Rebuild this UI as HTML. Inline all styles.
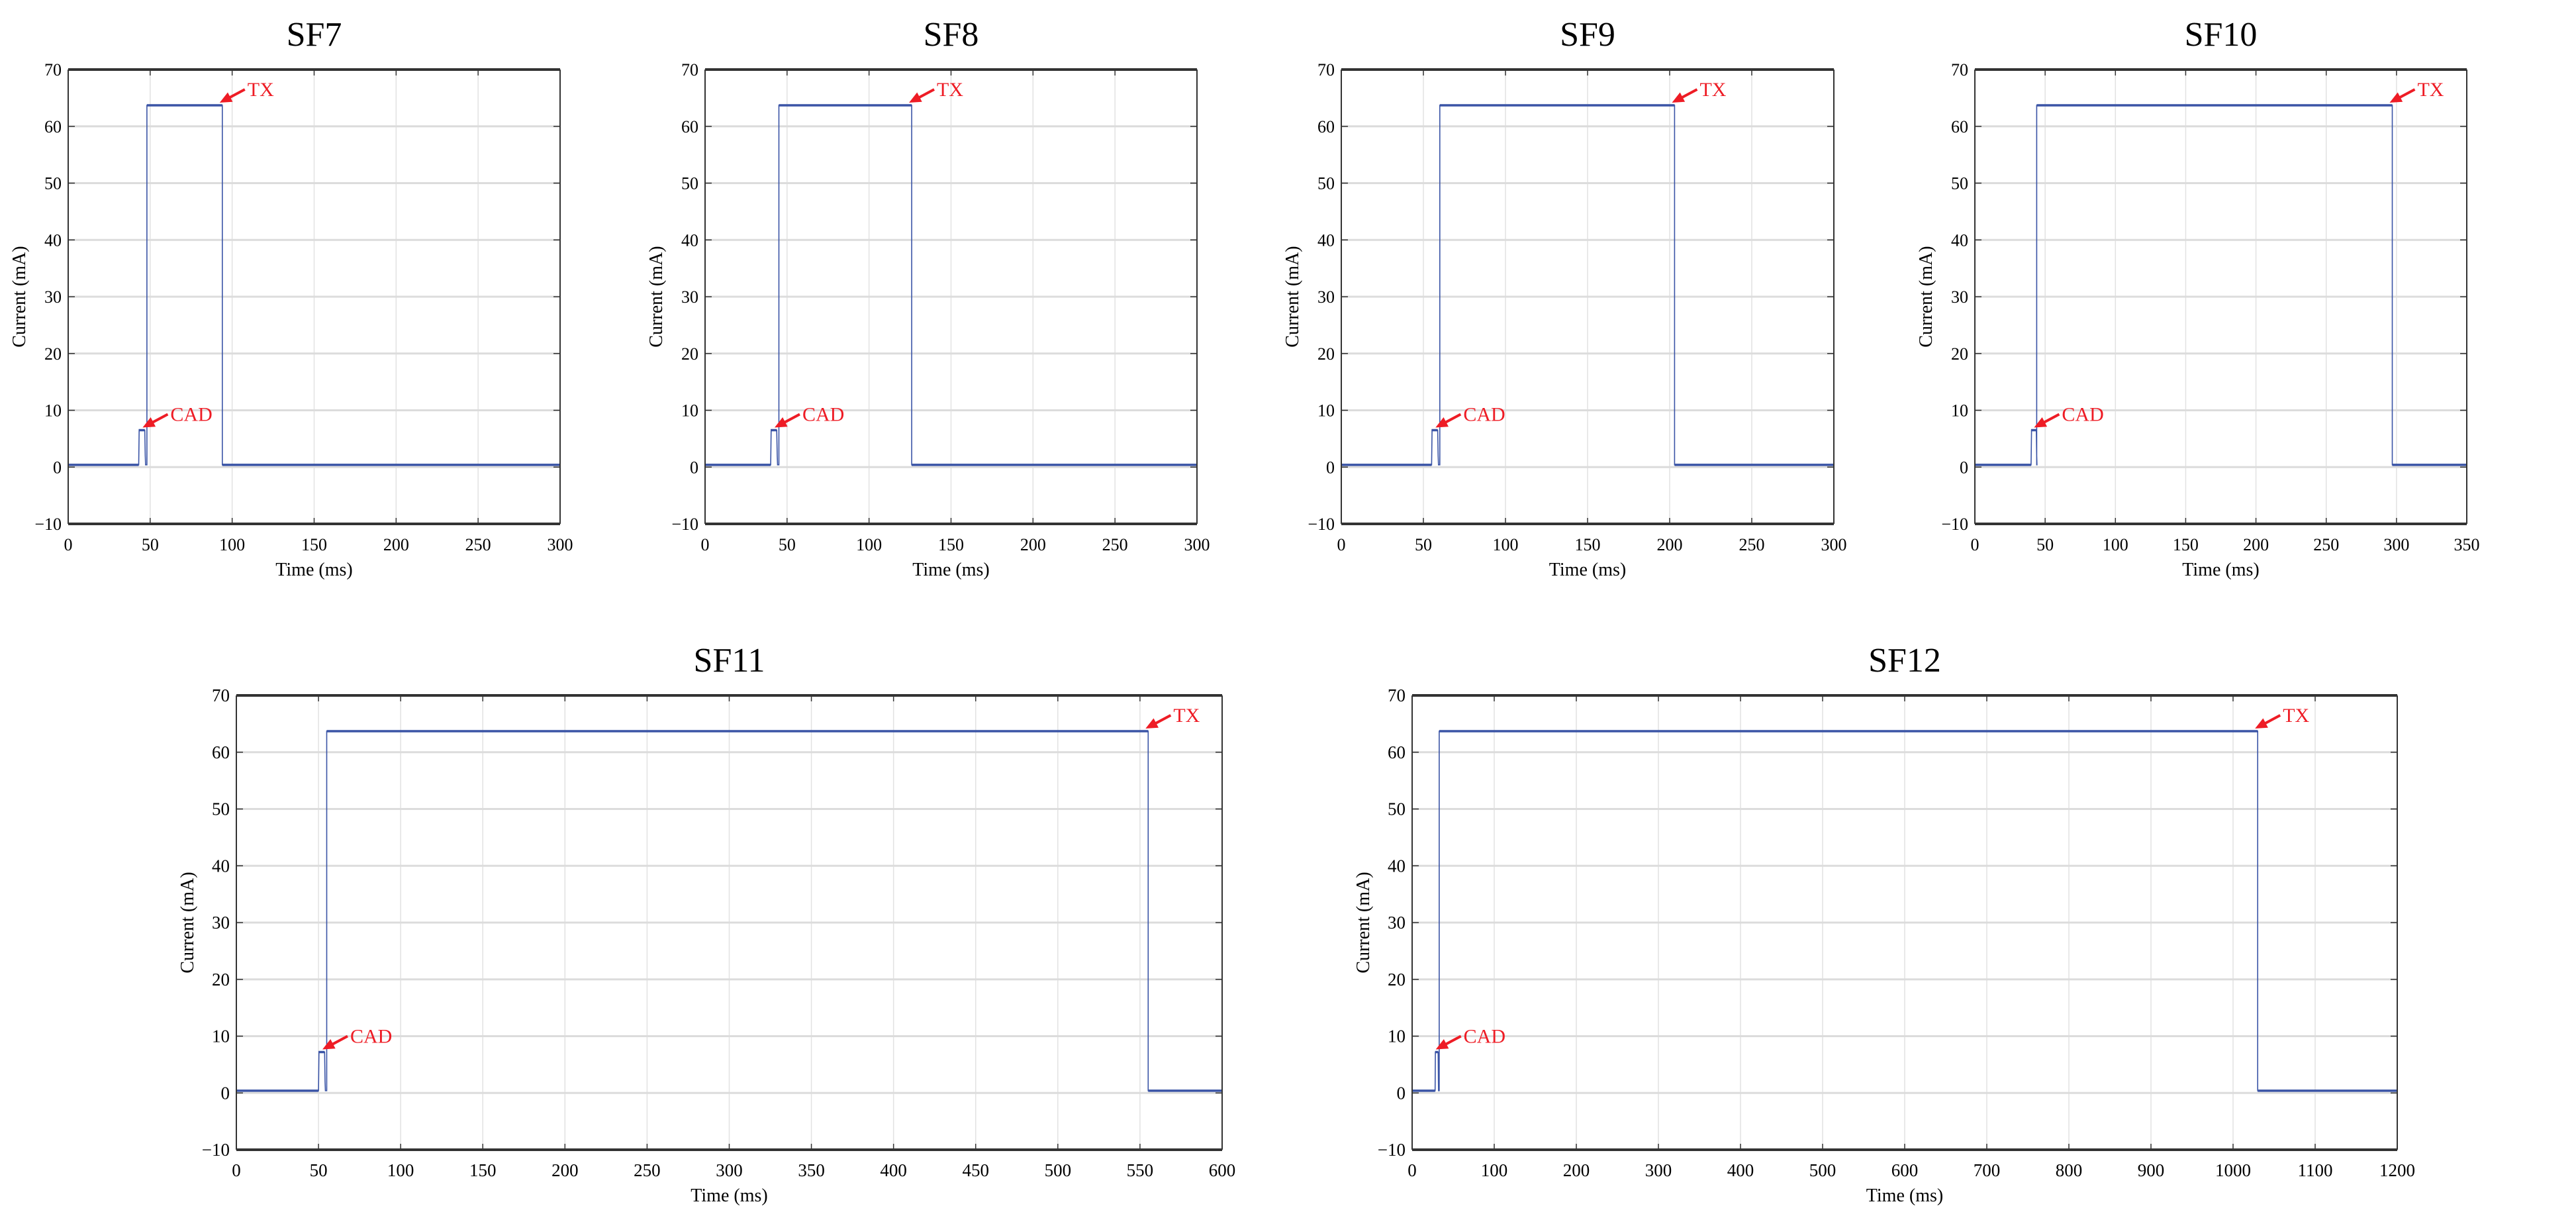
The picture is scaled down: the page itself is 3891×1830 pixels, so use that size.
<!DOCTYPE html>
<html><head><meta charset="utf-8">
<style>
html,body{margin:0;padding:0;background:#fff;}
svg{display:block;font-family:"Liberation Serif",serif;}
</style></head>
<body>
<svg id="fig" width="3891" height="1830" viewBox="0 0 3891 1830" xmlns="http://www.w3.org/2000/svg"></svg>
<script>
// ---- data ----
const titles = ["SF7","SF8","SF9","SF10","SF11","SF12"];
const xMaxes = [300,300,300,350,600,1200];
const xStepsArr = [50,50,50,50,50,100];
const yTicks = [-10,0,10,20,30,40,50,60,70];
const cadStart = [43,40,55,40,50,28];
const cadEnd = [47,44,59,44,54,32];
const txStart = [48,45,60,44,55,33];
const txEnd = [94,126,203,297,555,1030];
const idleLevel = [0.4,0.4,0.4,0.4,0.4,0.4];
const cadLevel = [6.5,6.5,6.5,6.5,7.2,7.2];
const txLevel = [63.7,63.7,63.7,63.7,63.7,63.7];

// layout (pixel boxes; not data)
const boxes = [
 {l:103,r:846,t:105,b:791,fs:26},
 {l:1065,r:1808,t:105,b:791,fs:26},
 {l:2026,r:2770,t:105,b:791,fs:26},
 {l:2983,r:3726,t:105,b:791,fs:26},
 {l:357,r:1846,t:1050,b:1736,fs:27},
 {l:2133,r:3621,t:1050,b:1736,fs:27}
];
const NS="http://www.w3.org/2000/svg";
const svg=document.getElementById('fig');
function mk(tag,attrs,parent){const e=document.createElementNS(NS,tag);for(const k in attrs)e.setAttribute(k,attrs[k]);(parent||svg).appendChild(e);return e;}

for(let i=0;i<6;i++){
  const B=boxes[i];
  const g=mk('g',{});
  
  
  const xs=v=>B.l+(v/xMaxes[i])*(B.r-B.l);
  const ys=v=>B.b-((v+10)/80)*(B.b-B.t);
  const t=mk('text',{x:(B.l+B.r)/2,y:B.t-36,'font-size':52,'text-anchor':'middle',fill:'#000'},g);
  t.textContent=titles[i];
  
  
  for(let xv=0;xv<=xMaxes[i];xv+=xStepsArr[i]){
    const x=xs(xv);
    if(xv>0&&xv<xMaxes[i]){
      const gl=mk('line',{x1:x,x2:x,y1:B.t,y2:B.b,stroke:'#e2e2e2','stroke-width':1.5},g);
      
      
      mk('line',{x1:x,x2:x,y1:B.b,y2:B.b-9,stroke:'#333','stroke-width':1.5},g);
      mk('line',{x1:x,x2:x,y1:B.t,y2:B.t+9,stroke:'#333','stroke-width':1.5},g);
    }
    const tl=mk('text',{x:x,y:B.b+40,'font-size':B.fs,'text-anchor':'middle',fill:'#000'},g);
    tl.textContent=String(xv);
    
    
  }
  for(const yv of yTicks){
    const y=ys(yv);
    if(yv>-10&&yv<70){
      const gl=mk('line',{x1:B.l,x2:B.r,y1:y,y2:y,stroke:'#dcdcdc','stroke-width':3},g);
      
      
      mk('line',{x1:B.l,x2:B.l+10,y1:y,y2:y,stroke:'#333','stroke-width':1.5},g);
      mk('line',{x1:B.r,x2:B.r-10,y1:y,y2:y,stroke:'#333','stroke-width':1.5},g);
    }
    const tl=mk('text',{x:B.l-10,y:y+9,'font-size':B.fs,'text-anchor':'end',fill:'#000'},g);
    tl.textContent=(yv<0?'\u2212'+(-yv):String(yv));
    
    
  }
  const pts=[[0,idleLevel[i]],[cadStart[i],idleLevel[i]],[cadStart[i]+0.3*(cadEnd[i]-cadStart[i])/4,cadLevel[i]],
    [cadEnd[i]-0.3,cadLevel[i]],[cadEnd[i],2],[cadEnd[i]+0.2,idleLevel[i]],[txStart[i],idleLevel[i]],
    [txStart[i],txLevel[i]],[txEnd[i],txLevel[i]],[txEnd[i],idleLevel[i]],[xMaxes[i],idleLevel[i]]];
  const d=pts.map((p,k)=>(k?'L':'M')+xs(p[0]).toFixed(1)+','+ys(p[1]).toFixed(1)).join(' ');
  const line=mk('path',{d:d,fill:'none',stroke:'#3a54a6','stroke-width':1.6},g);
  
  
  const segs=[[0,cadStart[i],idleLevel[i]],[cadStart[i],cadEnd[i]-0.3,cadLevel[i]],[txStart[i],txEnd[i],txLevel[i]],[txEnd[i],xMaxes[i],idleLevel[i]]];
  for(const s of segs){
    const bd=mk('line',{x1:xs(s[0]),x2:xs(s[1]),y1:ys(s[2]),y2:ys(s[2]),stroke:'#3a54a6','stroke-width':3.5},g);
    
    
  }
  mk('line',{x1:B.l,x2:B.r,y1:B.t,y2:B.t,stroke:'#333','stroke-width':4},g);
  mk('line',{x1:B.l,x2:B.r,y1:B.b,y2:B.b,stroke:'#333','stroke-width':4},g);
  mk('line',{x1:B.l,x2:B.l,y1:B.t,y2:B.b,stroke:'#333','stroke-width':2},g);
  mk('line',{x1:B.r,x2:B.r,y1:B.t,y2:B.b,stroke:'#333','stroke-width':2},g);
  const xl=mk('text',{x:(B.l+B.r)/2,y:B.b+78,'font-size':28,'text-anchor':'middle',fill:'#000'},g);
  xl.textContent='Time (ms)';
  
  
  const cy=(B.t+B.b)/2, cx=B.l-65;
  const yl=mk('text',{x:cx,y:cy,'font-size':28,'text-anchor':'middle',fill:'#000',transform:'rotate(-90 '+cx+' '+cy+')'},g);
  yl.textContent='Current (mA)';
  
  
  function annot(tipX,tipY,label,name){
    const tx=tipX+38, ty=tipY-20;
    const ag=mk('g',{},g);
    
    
    mk('line',{x1:tx,y1:ty,x2:tipX+8,y2:tipY-4,stroke:'#ee1c25','stroke-width':4},ag);
    const ang=Math.atan2(ty-tipY,tx-tipX);
    const L=18,W=8,ux=Math.cos(ang),uy=Math.sin(ang);
    const bx=tipX+ux*L,by=tipY+uy*L;
    mk('polygon',{points:tipX+','+tipY+' '+(bx-uy*W)+','+(by+ux*W)+' '+(bx+uy*W)+','+(by-ux*W),fill:'#ee1c25'},ag);
    const lt=mk('text',{x:tx+4,y:ty+10,'font-size':30,fill:'#ee1c25'},ag);
    lt.textContent=label;
  }
  annot(xs(txEnd[i])-4,ys(txLevel[i])-4,'TX','tx-annotation');
  annot(xs(cadEnd[i])-4,ys(cadLevel[i])-4,'CAD','cad-annotation');
}
</script>
</body></html>
